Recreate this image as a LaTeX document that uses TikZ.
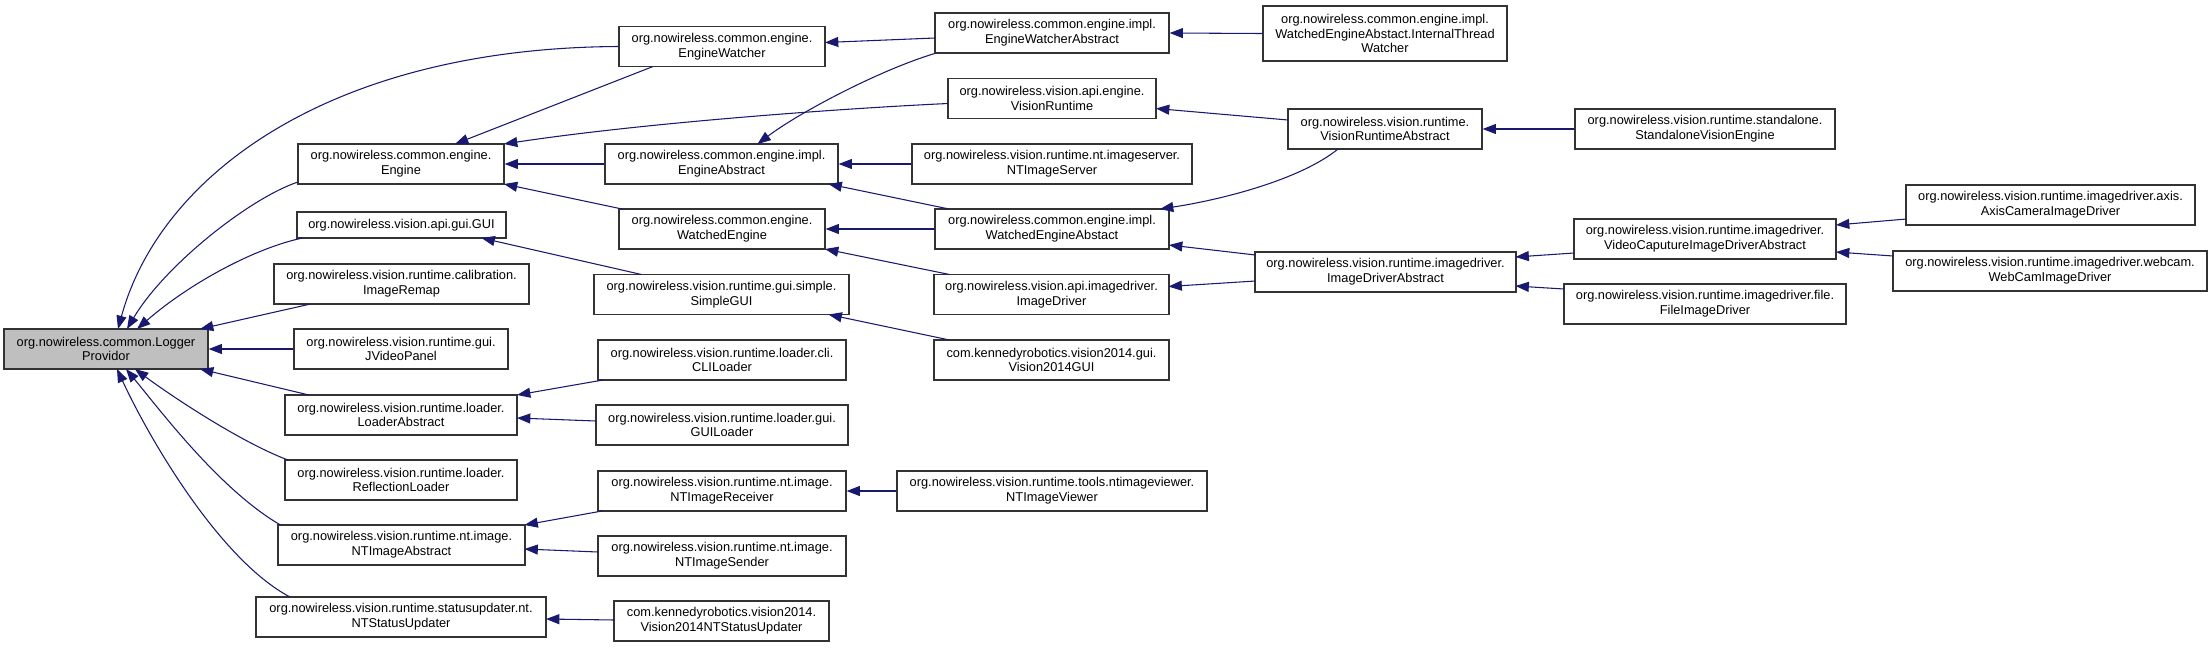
\documentclass[tikz,border=0pt]{standalone}
\usepackage{fontspec}
\setmainfont{Liberation Sans}
\usepackage{xcolor}
\usetikzlibrary{arrows.meta}
\usetikzlibrary{calc}
\definecolor{dxedge}{RGB}{25,25,112}
\definecolor{dxgray}{RGB}{191,191,191}

\begin{document}
\begin{tikzpicture}[x=0.75pt, y=-0.75pt,
		cls/.style 2 args={draw=black!80, line width=0.9pt, fill=white, inner sep=0pt, align=center, minimum width=#1*0.75pt, minimum height=#2*0.75pt, font=\fontsize{9.6}{11}\selectfont},
		inh/.style={draw=dxedge, line width=0.8pt, -{Triangle[length=10pt, width=7.5pt]}}]
	\useasboundingbox (0,0) rectangle (2212,647);
	% column 1
	\node[cls={204}{40}, fill=dxgray] (lp) at (106,349) {org.nowireless.common.Logger\\Providor};
	% column 2
	\node[cls={206}{40}] (eng) at (401,164) {org.nowireless.common.engine.\\Engine};
	\node[cls={209}{26}] (gui) at (401.5,225) {org.nowireless.vision.api.gui.GUI};
	\node[cls={255}{40}] (remap) at (401.5,284) {org.nowireless.vision.runtime.calibration.\\ImageRemap};
	\node[cls={214}{40}] (jvp) at (401,349) {org.nowireless.vision.runtime.gui.\\JVideoPanel};
	\node[cls={232}{40}] (ldra) at (401,415) {org.nowireless.vision.runtime.loader.\\LoaderAbstract};
	\node[cls={232}{40}] (refl) at (401,480) {org.nowireless.vision.runtime.loader.\\ReflectionLoader};
	\node[cls={247}{40}] (ntia) at (401.5,545) {org.nowireless.vision.runtime.nt.image.\\NTImageAbstract};
	\node[cls={290}{40}] (ntsu) at (401,617) {org.nowireless.vision.runtime.statusupdater.nt.\\NTStatusUpdater};
	% column 3
	\node[cls={206}{40}] (ew) at (722,46.5) {org.nowireless.common.engine.\\EngineWatcher};
	\node[cls={233}{40}] (enga) at (721.5,164) {org.nowireless.common.engine.impl.\\EngineAbstract};
	\node[cls={206}{40}] (wate) at (722,229) {org.nowireless.common.engine.\\WatchedEngine};
	\node[cls={255}{40}] (sgui) at (721.5,294.5) {org.nowireless.vision.runtime.gui.simple.\\SimpleGUI};
	\node[cls={248}{40}] (clil) at (722,360) {org.nowireless.vision.runtime.loader.cli.\\CLILoader};
	\node[cls={252}{40}] (guil) at (722,425) {org.nowireless.vision.runtime.loader.gui.\\GUILoader};
	\node[cls={248}{40}] (ntir) at (722,491) {org.nowireless.vision.runtime.nt.image.\\NTImageReceiver};
	\node[cls={248}{40}] (ntsd) at (722,556) {org.nowireless.vision.runtime.nt.image.\\NTImageSender};
	\node[cls={215}{40}] (v14ntsu) at (721.5,621) {com.kennedyrobotics.vision2014.\\Vision2014NTStatusUpdater};
	% column 4
	\node[cls={234}{40}] (ewa) at (1052,33) {org.nowireless.common.engine.impl.\\EngineWatcherAbstract};
	\node[cls={208}{40}] (vr) at (1052,98.5) {org.nowireless.vision.api.engine.\\VisionRuntime};
	\node[cls={280}{40}] (ntisv) at (1052,164) {org.nowireless.vision.runtime.nt.imageserver.\\NTImageServer};
	\node[cls={234}{40}] (wea) at (1052,229) {org.nowireless.common.engine.impl.\\WatchedEngineAbstact};
	\node[cls={235}{40}] (imd) at (1051.5,294.5) {org.nowireless.vision.api.imagedriver.\\ImageDriver};
	\node[cls={235}{40}] (v14gui) at (1051.5,360) {com.kennedyrobotics.vision2014.gui.\\Vision2014GUI};
	\node[cls={310}{40}] (ntiv) at (1052,491) {org.nowireless.vision.runtime.tools.ntimageviewer.\\NTImageViewer};
	% column 5
	\node[cls={244}{55}] (itw) at (1385,33.5) {org.nowireless.common.engine.impl.\\WatchedEngineAbstact.InternalThread\\Watcher};
	\node[cls={194}{40}] (vra) at (1385,129) {org.nowireless.vision.runtime.\\VisionRuntimeAbstract};
	\node[cls={261}{40}] (ida) at (1385.5,272) {org.nowireless.vision.runtime.imagedriver.\\ImageDriverAbstract};
	% column 6
	\node[cls={260}{40}] (sve) at (1705,129) {org.nowireless.vision.runtime.standalone.\\StandaloneVisionEngine};
	\node[cls={262}{40}] (vcid) at (1705,239) {org.nowireless.vision.runtime.imagedriver.\\VideoCaputureImageDriverAbstract};
	\node[cls={282}{40}] (fid) at (1705,304) {org.nowireless.vision.runtime.imagedriver.file.\\FileImageDriver};
	% column 7
	\node[cls={289}{40}] (axis) at (2050.5,205) {org.nowireless.vision.runtime.imagedriver.axis.\\AxisCameraImageDriver};
	\node[cls={314}{40}] (webc) at (2050,271) {org.nowireless.vision.runtime.imagedriver.webcam.\\WebCamImageDriver};
	% into LoggerProvidor
	\draw[inh] (ew.west) .. controls (330,48) and (160,175) .. ($(lp)+(12,-20)$);
	\draw[inh] ($(eng)+(-103,18)$) .. controls (250,198) and (165,265) .. ($(lp)+(21,-20)$);
	\draw[inh] ($(gui)+(-99,13)$) .. controls (255,248) and (190,283) .. ($(lp)+(31,-20)$);
	\draw[inh] ($(remap)+(-91,20)$) -- ($(lp)+(94,-20)$);
	\draw[inh] (jvp.west) -- (lp.east);
	\draw[inh] ($(ldra)+(-92,-20)$) -- ($(lp)+(94,20)$);
	\draw[inh] ($(refl)+(-113,-20)$) .. controls (240,442) and (170,395) .. ($(lp)+(29,20)$);
	\draw[inh] ($(ntia)+(-121,-20)$) .. controls (220,490) and (160,410) .. ($(lp)+(20,20)$);
	\draw[inh] ($(ntsu)+(-111,-20)$) .. controls (220,560) and (150,440) .. ($(lp)+(11,20)$);
	% engine part
	\draw[inh] ($(ew)+(-69,20)$) -- ($(eng)+(54,-20)$);
	\draw[inh] ($(vr)+(-104,5)$) .. controls (850,108) and (650,122) .. ($(eng)+(103,-20)$);
	\draw[inh] (enga.west) -- (eng.east);
	\draw[inh] ($(wate)+(-100,-20)$) -- ($(eng)+(103,20)$);
	\draw[inh] ($(ewa)+(-117,5)$) -- ($(ew)+(103,-4)$);
	\draw[inh] (itw.west) -- (ewa.east);
	\draw[inh] (ewa.south west) .. controls (880,70) and (800,112) .. ($(enga)+(36,-20)$);
	\draw[inh] (ntisv.west) -- (enga.east);
	\draw[inh] ($(wea)+(-103,-20)$) -- ($(enga)+(107,20)$);
	\draw[inh] (wea.west) -- (wate.east);
	\draw[inh] ($(imd)+(-102,-20)$) -- ($(wate)+(103,20)$);
	\draw[inh] ($(vra)+(-97,-9)$) -- ($(vr)+(104,10)$);
	\draw[inh] ($(vra)+(-47,20)$) .. controls (1300,180) and (1220,200) .. ($(wea)+(108,-20)$);
	\draw[inh] (sve.west) -- (vra.east);
	% image drivers
	\draw[inh] ($(ida)+(-130,-17)$) -- ($(wea)+(117,16)$);
	\draw[inh] ($(ida)+(-130,9)$) -- ($(imd)+(117,-8)$);
	\draw[inh] ($(vcid)+(-131,14)$) -- ($(ida)+(130,-15)$);
	\draw[inh] ($(fid)+(-141,-15)$) -- ($(ida)+(130,14)$);
	\draw[inh] ($(axis)+(-144,14)$) -- ($(vcid)+(131,-14)$);
	\draw[inh] ($(webc)+(-157,-15)$) -- ($(vcid)+(131,13)$);
	% gui, loaders, nt
	\draw[inh] ($(sgui)+(-80,-20)$) -- ($(gui)+(80,13)$);
	\draw[inh] ($(v14gui)+(-102,-20)$) -- ($(sgui)+(107,20)$);
	\draw[inh] ($(clil)+(-119,20)$) -- ($(ldra)+(116,-20)$);
	\draw[inh] ($(guil)+(-126,-4)$) -- ($(ldra)+(116,3)$);
	\draw[inh] ($(ntir)+(-120,20)$) -- ($(ntia)+(123,-20)$);
	\draw[inh] ($(ntsd)+(-124,-4)$) -- ($(ntia)+(123,4)$);
	\draw[inh] (ntiv.west) -- (ntir.east);
	\draw[inh] ($(v14ntsu)+(-107,-1)$) -- ($(ntsu)+(145,2)$);
\end{tikzpicture}
\end{document}
